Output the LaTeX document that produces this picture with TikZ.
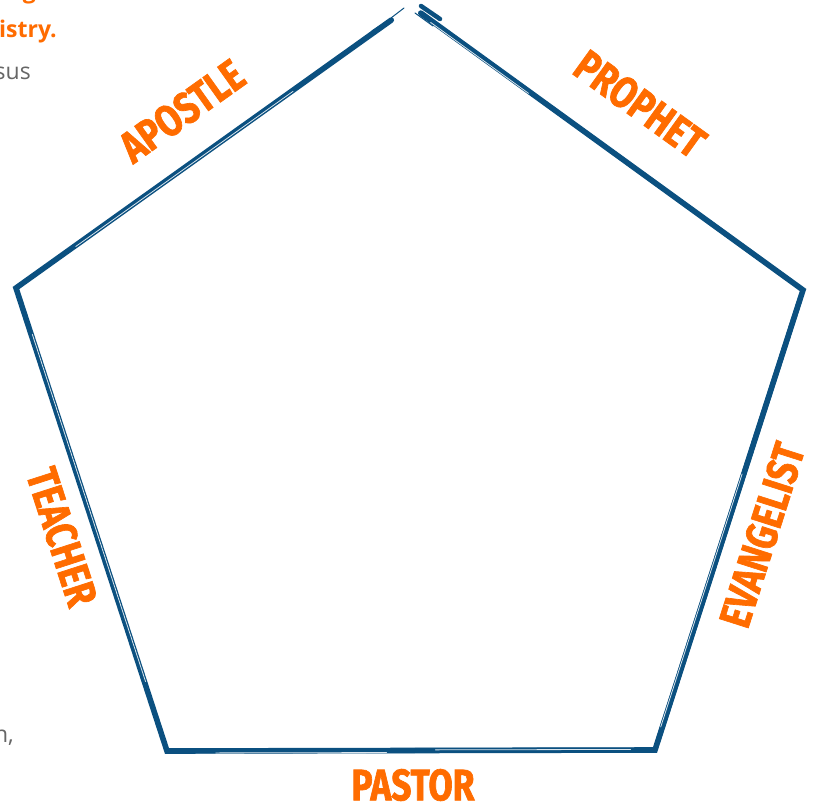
\documentclass[tikz,border=0pt]{standalone}
\usepackage{fontspec}
\usetikzlibrary{calc}
\newfontfamily\lblfont[FakeStretch=0.8,FakeBold=1.5]{Fira Sans}
\newfontfamily\bodyfont{Open Sans}
\definecolor{brushblue}{RGB}{11,80,128}
\definecolor{lblorange}{RGB}{255,108,0}
\definecolor{bodygray}{RGB}{102,102,102}
\begin{document}
\begin{tikzpicture}[x=1pt,y=-1pt,
  lbl/.style={font=\lblfont\bfseries\fontsize{44}{44}\selectfont, text=lblorange, inner sep=0pt},
  bodytxt/.style={font=\bodyfont\fontsize{23}{23}\selectfont, text=bodygray, inner sep=0pt},
  bodyhead/.style={font=\bodyfont\bfseries\fontsize{23}{23}\selectfont, text=lblorange, inner sep=0pt},
  brush/.style={draw=brushblue, line join=miter, line cap=round},
  streak/.style={draw=white, line width=0.8pt, opacity=0.85, line cap=round}]
\useasboundingbox (0,0) rectangle (816,805);
\clip (0,0) rectangle (816,805);
\fill[white] (0,0) rectangle (816,805);
% corners
\coordinate (T) at (411,6);
\coordinate (R) at (803,290);
\coordinate (BR) at (655,750);
\coordinate (BL) at (167,751);
\coordinate (L) at (16,288);
% main stroke
\draw[brush, line width=5.6pt] ($(T)!0.05!(L)$) -- (L) -- (BL) -- (BR) -- (R) -- ($(R)!0.975!(T)$);
% thickening strokes
\draw[brush, line width=5pt, shift={(-3.4,0)}] ($(R)!0.02!(BR)$) -- ($(R)!0.98!(BR)$);
\draw[brush, line width=5pt, shift={(0,3.2)}] ($(BR)!0.01!(BL)$) -- ($(BR)!0.99!(BL)$);
\draw[brush, line width=4.5pt, shift={(1.4,2.2)}] ($(T)!0.06!(R)$) -- ($(T)!0.97!(R)$);
\draw[brush, line width=4pt, shift={(2.2,0)}] ($(L)!0.03!(BL)$) -- ($(L)!0.97!(BL)$);
% top fragments
\draw[brush, line width=1.2pt] (372,31) -- (386,22);
\draw[brush, line width=1pt] (391,18) -- (404,8);
\draw[brush, line width=1pt] (415,13) -- (433,26);
\draw[brush, line width=4.5pt] (421,6) -- (440,19);
% streaks
\draw[streak] ($(L)!0.1!(BL)+(1.2,0)$) -- ($(L)!0.85!(BL)+(1.2,0)$);
\draw[streak] ($(L)!0.15!(T)+(0.5,0.8)$) -- ($(L)!0.7!(T)+(0.5,0.8)$);
\draw[streak] ($(BL)!0.1!(BR)+(0,2)$) -- ($(BL)!0.45!(BR)+(0,2)$);
\draw[streak] ($(BL)!0.55!(BR)+(0,-0.6)$) -- ($(BL)!0.95!(BR)+(0,-0.6)$);
\draw[streak] ($(BR)!0.05!(R)+(-1.7,0)$) -- ($(BR)!0.6!(R)+(-1.7,0)$);
\draw[streak] ($(T)!0.05!(R)+(0,2.2)$) -- ($(T)!0.3!(R)+(0,2.2)$);
% labels
\node[lbl, rotate=35.5] (apostle) at (182,111) {APOSTLE};
\node[lbl, rotate=-35.8] (prophet) at (640,104) {PROPHET};
\node[lbl, rotate=72.3] (evangelist) at (762,535) {EVANGELIST};
\node[lbl, rotate=-72.1] (teacher) at (62,537) {TEACHER};
\node[lbl] (pastor) at (413,785) {PASTOR};
% cut-off body text
\node[bodyhead, anchor=base east] (gtail) at (36,-1) {g};
\node[bodyhead, anchor=base east] (istry) at (57,38) {istry.};
\node[bodytxt, anchor=base east] (sus) at (31,80) {sus};
\node[bodytxt, anchor=base east] (ncomma) at (14,742) {n,};
\end{tikzpicture}
\end{document}
